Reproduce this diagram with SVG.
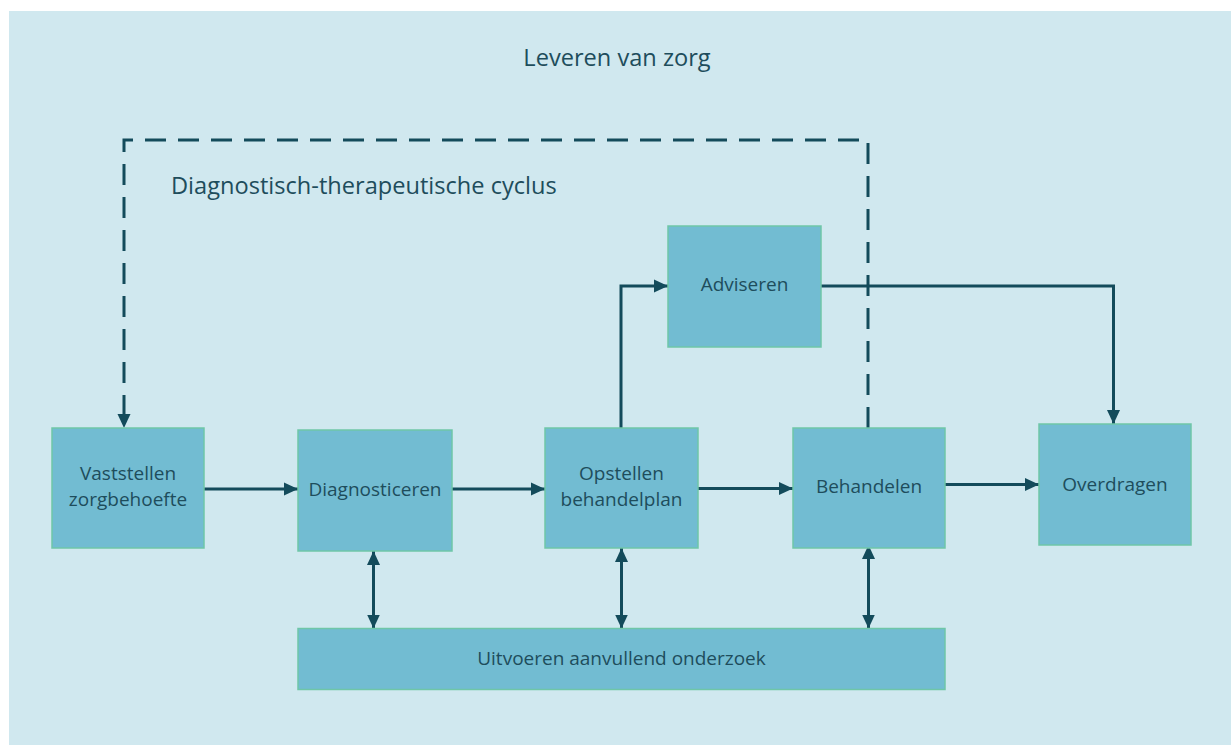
<svg xmlns="http://www.w3.org/2000/svg" width="1231" height="745" viewBox="0 0 1231 745">
  <defs>
    <marker id="arr" markerUnits="userSpaceOnUse" markerWidth="14" markerHeight="14" refX="14" refY="6.5" orient="auto-start-reverse" viewBox="0 0 14 13">
      <path d="M0,0 L14,6.5 L0,13 z" fill="#134b5b"/>
    </marker>
    <style>
      .box { fill: #72bcd2; stroke: #6fc6a8; stroke-width: 1.5; }
      .lbl { font-family: "Open Sans", "Liberation Sans", sans-serif; font-size: 19px; fill: #1e4d5c; text-anchor: middle; }
      .ttl { font-family: "Open Sans", "Liberation Sans", sans-serif; font-size: 23.6px; fill: #1e4d5c; }
      .ln { fill: none; stroke: #134b5b; stroke-width: 3; }
      .dash { stroke-dasharray: 21 12; }
    </style>
  </defs>
  <rect x="9" y="11" width="1222" height="734" fill="#d0e8ef"/>
  <text class="ttl" x="617" y="66" text-anchor="middle">Leveren van zorg</text>
  <text class="ttl" x="171" y="194">Diagnostisch-therapeutische cyclus</text>

  <g id="connectors">
    <path class="ln dash" d="M868,428 V140 H124 V428" marker-end="url(#arr)"/>
    <path class="ln" d="M204,489 H298" marker-end="url(#arr)"/>
    <path class="ln" d="M452,489 H545" marker-end="url(#arr)"/>
    <path class="ln" d="M698,488.5 H793" marker-end="url(#arr)"/>
    <path class="ln" d="M945,484.5 H1039" marker-end="url(#arr)"/>
    <path class="ln" d="M621,428 V286 H668" marker-end="url(#arr)"/>
    <path class="ln" d="M821,286 H1113.5 V424" marker-end="url(#arr)"/>
    <path class="ln" d="M373.5,551 V628.5" marker-start="url(#arr)" marker-end="url(#arr)"/>
    <path class="ln" d="M621.5,548 V628.5" marker-start="url(#arr)" marker-end="url(#arr)"/>
    <path class="ln" d="M868.5,545 V628.5" marker-start="url(#arr)" marker-end="url(#arr)"/>
  </g>

  <g id="vaststellen">
    <rect class="box" x="52" y="428" width="152" height="120"/>
    <text class="lbl" x="128" y="479.5">Vaststellen</text>
    <text class="lbl" x="128" y="505.5">zorgbehoefte</text>
  </g>
  <g id="diagnosticeren">
    <rect class="box" x="298" y="430" width="154" height="121"/>
    <text class="lbl" x="375" y="496">Diagnosticeren</text>
  </g>
  <g id="opstellen">
    <rect class="box" x="545" y="428" width="153" height="120"/>
    <text class="lbl" x="621.5" y="479.5">Opstellen</text>
    <text class="lbl" x="621.5" y="505.5">behandelplan</text>
  </g>
  <g id="behandelen">
    <rect class="box" x="793" y="428" width="152" height="120"/>
    <text class="lbl" x="869" y="493">Behandelen</text>
  </g>
  <g id="adviseren">
    <rect class="box" x="668" y="226" width="153" height="121"/>
    <text class="lbl" x="744.5" y="291">Adviseren</text>
  </g>
  <g id="overdragen">
    <rect class="box" x="1039" y="424" width="152" height="121"/>
    <text class="lbl" x="1115" y="491">Overdragen</text>
  </g>
  <g id="uitvoeren">
    <rect class="box" x="298" y="628.5" width="647" height="61"/>
    <text class="lbl" x="621.5" y="665">Uitvoeren aanvullend onderzoek</text>
  </g>
</svg>
